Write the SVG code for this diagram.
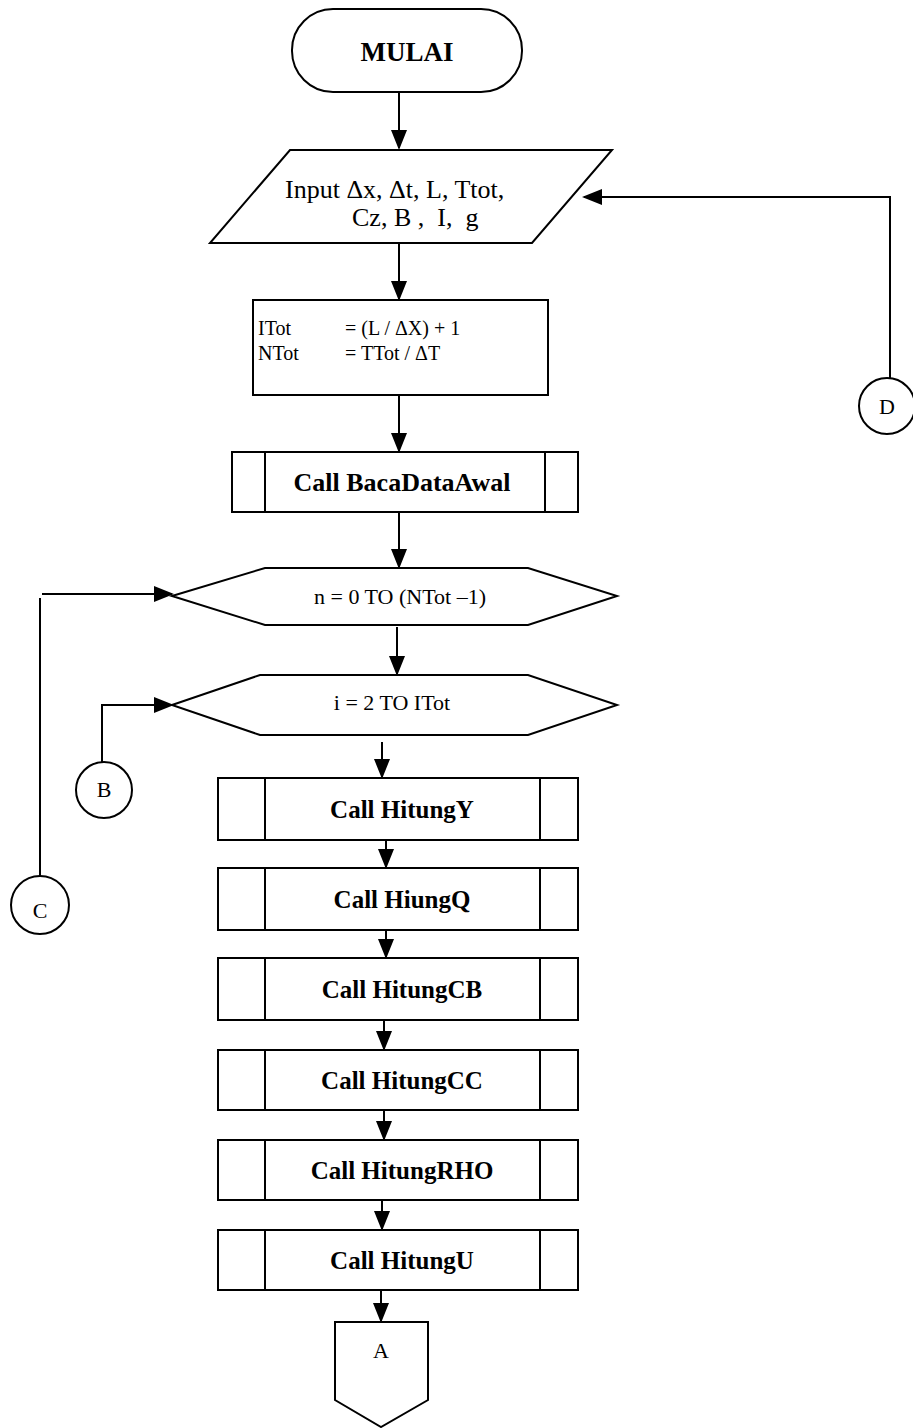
<svg xmlns="http://www.w3.org/2000/svg" width="913" height="1428" viewBox="0 0 913 1428">
<style>
.s{fill:#fff;stroke:#000;stroke-width:2}
.l{fill:none;stroke:#000;stroke-width:2}
.t{font-family:"Liberation Serif","Times New Roman",serif;font-size:22px;fill:#000}
.b{font-weight:bold;font-size:25px}
.bb{font-size:26px}
.in{font-size:26px}
.eq{font-size:20px}
.mu{font-size:27px}
.m{text-anchor:middle}
</style>
<defs>
<marker id="ah" markerWidth="20" markerHeight="16" refX="18" refY="8" orient="auto" markerUnits="userSpaceOnUse">
<path d="M0,0 L20,8 L0,16 Z" fill="#000"/>
</marker>
</defs>
<rect width="913" height="1428" fill="#fff"/>
<g id="connectors">
<line class="l" x1="399" y1="92" x2="399" y2="148" marker-end="url(#ah)"/>
<line class="l" x1="399" y1="243" x2="399" y2="299" marker-end="url(#ah)"/>
<line class="l" x1="399" y1="395" x2="399" y2="451" marker-end="url(#ah)"/>
<line class="l" x1="399" y1="512" x2="399" y2="567" marker-end="url(#ah)"/>
<line class="l" x1="397" y1="627" x2="397" y2="674" marker-end="url(#ah)"/>
<line class="l" x1="382" y1="742" x2="382" y2="777" marker-end="url(#ah)"/>
<line class="l" x1="386" y1="840" x2="386" y2="867" marker-end="url(#ah)"/>
<line class="l" x1="386" y1="930" x2="386" y2="957" marker-end="url(#ah)"/>
<line class="l" x1="384" y1="1020" x2="384" y2="1049" marker-end="url(#ah)"/>
<line class="l" x1="384" y1="1110" x2="384" y2="1139" marker-end="url(#ah)"/>
<line class="l" x1="382" y1="1200" x2="382" y2="1229" marker-end="url(#ah)"/>
<line class="l" x1="381" y1="1290" x2="381" y2="1321" marker-end="url(#ah)"/>
<polyline class="l" points="890,378 890,197 584,197" marker-end="url(#ah)"/>
<polyline class="l" points="40,876 40,598"/>
<line class="l" x1="42" y1="594" x2="172" y2="594" marker-end="url(#ah)"/>
<polyline class="l" points="102,762 102,705 172,705" marker-end="url(#ah)"/>
</g>
<g id="mulai">
<rect class="s" x="292" y="9" width="230" height="83" rx="41" ry="41"/>
<text class="t b mu m" x="407" y="61">MULAI</text>
</g>
<g id="input">
<polygon class="s" points="290,150 612,150 532,243 210,243"/>
<text class="t in" x="285" y="198">Input Δx, Δt, L, Ttot,</text>
<text class="t in" x="352" y="226">Cz, B ,&#160; I,&#160; g</text>
</g>
<g id="init">
<rect class="s" x="253" y="300" width="295" height="95"/>
<text class="t eq" x="258" y="335">ITot</text>
<text class="t eq" x="345" y="335">= (L / ΔX) + 1</text>
<text class="t eq" x="258" y="360">NTot</text>
<text class="t eq" x="345" y="360">= TTot / ΔT</text>
</g>
<g id="baca">
<rect class="s" x="232" y="452" width="346" height="60"/>
<line class="l" x1="265" y1="452" x2="265" y2="512"/>
<line class="l" x1="545" y1="452" x2="545" y2="512"/>
<text class="t b bb m" x="402" y="491">Call BacaDataAwal</text>
</g>
<g id="loop-n">
<polygon class="s" points="172,596 265,568 528,568 617,596 528,625 265,625"/>
<text class="t m" x="400" y="604">n = 0 TO (NTot –1)</text>
</g>
<g id="loop-i">
<polygon class="s" points="172,705 260,675 528,675 617,705 528,735 260,735"/>
<text class="t m" x="392" y="710">i = 2 TO ITot</text>
</g>
<g id="hitungY">
<rect class="s" x="218" y="778" width="360" height="62"/>
<line class="l" x1="265" y1="778" x2="265" y2="840"/>
<line class="l" x1="540" y1="778" x2="540" y2="840"/>
<text class="t b m" x="402" y="818">Call HitungY</text>
</g>
<g id="hiungQ">
<rect class="s" x="218" y="868" width="360" height="62"/>
<line class="l" x1="265" y1="868" x2="265" y2="930"/>
<line class="l" x1="540" y1="868" x2="540" y2="930"/>
<text class="t b m" x="402" y="908">Call HiungQ</text>
</g>
<g id="hitungCB">
<rect class="s" x="218" y="958" width="360" height="62"/>
<line class="l" x1="265" y1="958" x2="265" y2="1020"/>
<line class="l" x1="540" y1="958" x2="540" y2="1020"/>
<text class="t b m" x="402" y="998">Call HitungCB</text>
</g>
<g id="hitungCC">
<rect class="s" x="218" y="1050" width="360" height="60"/>
<line class="l" x1="265" y1="1050" x2="265" y2="1110"/>
<line class="l" x1="540" y1="1050" x2="540" y2="1110"/>
<text class="t b m" x="402" y="1089">Call HitungCC</text>
</g>
<g id="hitungRHO">
<rect class="s" x="218" y="1140" width="360" height="60"/>
<line class="l" x1="265" y1="1140" x2="265" y2="1200"/>
<line class="l" x1="540" y1="1140" x2="540" y2="1200"/>
<text class="t b m" x="402" y="1179">Call HitungRHO</text>
</g>
<g id="hitungU">
<rect class="s" x="218" y="1230" width="360" height="60"/>
<line class="l" x1="265" y1="1230" x2="265" y2="1290"/>
<line class="l" x1="540" y1="1230" x2="540" y2="1290"/>
<text class="t b m" x="402" y="1269">Call HitungU</text>
</g>
<g id="A">
<polygon class="s" points="335,1322 428,1322 428,1400 381,1427 335,1400"/>
<text class="t m" x="381" y="1358">A</text>
</g>
<g id="B">
<circle class="s" cx="104" cy="790" r="28"/>
<text class="t m" x="104" y="797">B</text>
</g>
<g id="C">
<circle class="s" cx="40" cy="905" r="29"/>
<text class="t m" x="40" y="918">C</text>
</g>
<g id="D">
<circle class="s" cx="887" cy="406" r="28"/>
<text class="t m" x="887" y="414">D</text>
</g>
</svg>
